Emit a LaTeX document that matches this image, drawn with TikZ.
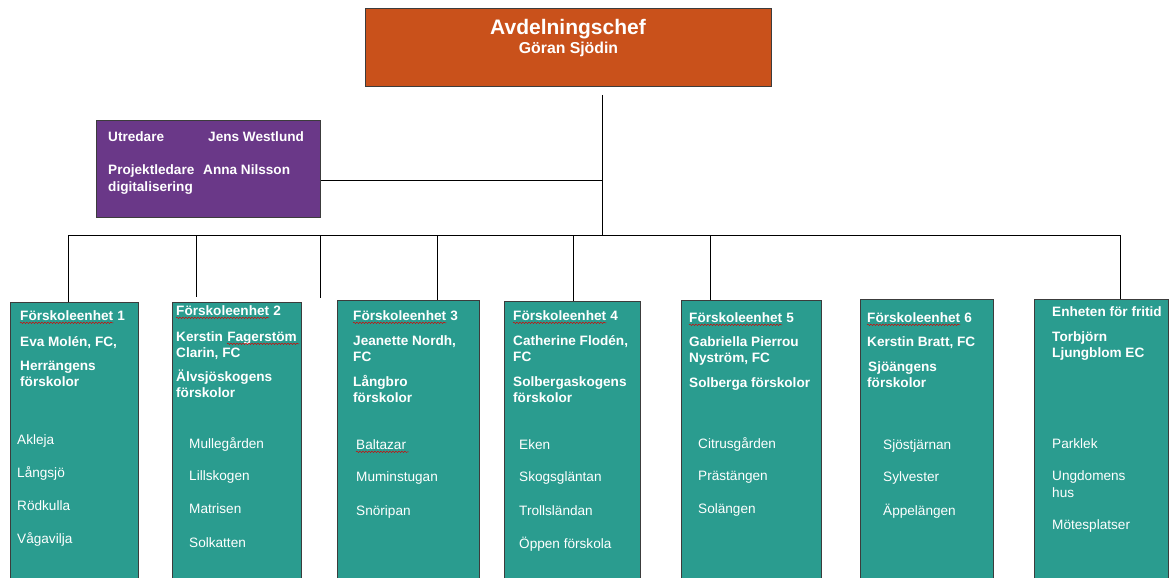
\documentclass[tikz,border=0pt]{standalone}
\usepackage{fontspec}
\setmainfont{Liberation Sans}
\usetikzlibrary{decorations.pathmorphing}
\definecolor{tealc}{RGB}{42,156,143}
\definecolor{orangec}{RGB}{201,81,27}
\definecolor{purplec}{RGB}{106,56,136}
\definecolor{boxgray}{RGB}{60,60,60}
\tikzset{
  unitbox/.style={draw=boxgray, fill=tealc, line width=0.9pt, anchor=north west, inner sep=0pt, outer sep=0pt},
  hd/.style={anchor=base west, inner sep=0pt, text=white, font=\fontsize{13.6}{16}\selectfont\bfseries},
  it/.style={anchor=base west, inner sep=0pt, text=white, font=\fontsize{13.6}{16}\selectfont},
  conn/.style={draw=black, line width=0.8pt},
  squig/.style={draw=red!85!black, line width=0.45pt, decorate, decoration={snake, segment length=3pt, amplitude=0.7pt}}
}
\newcommand\squigunder[1]{\draw[squig] ([yshift=-2.8pt]#1.base west) -- ([yshift=-2.8pt]#1.base east);}
\begin{document}
\begin{tikzpicture}[x=1pt,y=-1pt]
\useasboundingbox (0,0) rectangle (1176,578);
% top box
\node[draw=boxgray, fill=orangec, line width=0.9pt, anchor=north west, minimum width=406pt, minimum height=78pt, inner sep=0pt] (top) at (365,8) {};
\node[anchor=base, inner sep=0pt, text=white, font=\fontsize{21}{24}\selectfont\bfseries] (topt1) at (568,34.7) {Avdelningschef};
\node[anchor=base, inner sep=0pt, text=white, font=\fontsize{15.8}{18}\selectfont\bfseries] (topt2) at (568.5,54) {Göran Sjödin};
% purple box
\node[draw=boxgray, fill=purplec, line width=0.9pt, anchor=north west, minimum width=224pt, minimum height=97pt, inner sep=0pt] (pur) at (96,120) {};
\node[hd] (p1) at (108,141) {Utredare};
\node[hd] (p2) at (208,141) {Jens Westlund};
\node[hd] (p3) at (108,174) {Projektledare};
\node[hd] (p4) at (203,174) {Anna Nilsson};
\node[hd] (p5) at (108,191) {digitalisering};
% unit boxes
\node[unitbox, minimum width=128pt, minimum height=280pt] (b1) at (10,302) {};
\node[unitbox, minimum width=129pt, minimum height=280pt] (b2) at (172,302) {};
\node[unitbox, minimum width=142pt, minimum height=280pt] (b3) at (337,300) {};
\node[unitbox, minimum width=136pt, minimum height=280pt] (b4) at (504,301) {};
\node[unitbox, minimum width=140pt, minimum height=280pt] (b5) at (681,300) {};
\node[unitbox, minimum width=133pt, minimum height=280pt] (b6) at (860,299) {};
\node[unitbox, minimum width=134pt, minimum height=280pt] (b7) at (1034,299) {};
% connectors
\coordinate (topdrop) at (602,95);
\coordinate (jp) at (602,180);
\coordinate (bus) at (602,235);
\coordinate (busL) at (68,235);
\coordinate (busR) at (1120,235);
\coordinate (c2) at (196,235);
\coordinate (e2) at (196,297);
\coordinate (c3) at (320,235);
\coordinate (e3) at (320,298);
\coordinate (c4) at (437,235);
\coordinate (c5) at (573,235);
\coordinate (c6) at (710,235);
\draw[conn] (topdrop) -- (bus);
\draw[conn] (pur.east |- jp) -- (jp);
\draw[conn] (busL) -- (busR);
\draw[conn] (busL) -- (busL |- b1.north);
\draw[conn] (c2) -- (e2);
\draw[conn] (c3) -- (e3);
\draw[conn] (c4) -- (c4 |- b3.north);
\draw[conn] (c5) -- (c5 |- b4.north);
\draw[conn] (c6) -- (c6 |- b5.north);
\draw[conn] (busR) -- (busR |- b7.north);
% box 1
\node[hd] (t11w) at (20,320) {Förskoleenhet};
\node[hd] (t11) at (t11w.base east) {\ 1};
\node[hd] (t12) at (20,346) {Eva Molén, FC,};
\node[hd] (t13) at (20,370) {Herrängens};
\node[hd] (t14) at (20,386) {förskolor};
\node[it] (i11) at (17,444) {Akleja};
\node[it] (i12) at (17,477) {Långsjö};
\node[it] (i13) at (17,510) {Rödkulla};
\node[it] (i14) at (17,543) {Vågavilja};
% box 2
\node[hd] (t21w) at (176,315) {Förskoleenhet};
\node[hd] (t21) at (t21w.base east) {\ 2};
\node[hd] (t22a) at (176,341) {Kerstin};
\node[hd] (t22) at ([xshift=3.8pt]t22a.base east) {Fagerstöm\,};
\node[hd] (t23) at (176,357) {Clarin, FC};
\node[hd] (t24) at (176,381) {Älvsjöskogens};
\node[hd] (t25) at (176,397) {förskolor};
\node[it] (i21) at (189,448) {Mullegården};
\node[it] (i22) at (189,480) {Lillskogen};
\node[it] (i23) at (189,513) {Matrisen};
\node[it] (i24) at (189,547) {Solkatten};
% box 3
\node[hd] (t31w) at (353,320) {Förskoleenhet};
\node[hd] (t31) at (t31w.base east) {\ 3};
\node[hd] (t32) at (353,345) {Jeanette Nordh,};
\node[hd] (t33) at (353,361) {FC};
\node[hd] (t34) at (353,386) {Långbro};
\node[hd] (t35) at (353,402) {förskolor};
\node[it] (i31) at (356,449) {Baltazar\,};
\node[it] (i32) at (356,481) {Muminstugan};
\node[it] (i33) at (356,515) {Snöripan};
% box 4
\node[hd] (t41w) at (513,320) {Förskoleenhet};
\node[hd] (t41) at (t41w.base east) {\ 4};
\node[hd] (t42) at (513,345) {Catherine Flodén,};
\node[hd] (t43) at (513,361) {FC};
\node[hd] (t44) at (513,386) {Solbergaskogens};
\node[hd] (t45) at (513,402) {förskolor};
\node[it] (i41) at (519,449) {Eken};
\node[it] (i42) at (519,481) {Skogsgläntan};
\node[it] (i43) at (519,515) {Trollsländan};
\node[it] (i44) at (519,548) {Öppen förskola};
% box 5
\node[hd] (t51w) at (689,322) {Förskoleenhet};
\node[hd] (t51) at (t51w.base east) {\ 5};
\node[hd] (t52) at (689,346) {Gabriella Pierrou};
\node[hd] (t53) at (689,362) {Nyström, FC};
\node[hd] (t54) at (689,387) {Solberga förskolor};
\node[it] (i51) at (698,448) {Citrusgården};
\node[it] (i52) at (698,480) {Prästängen};
\node[it] (i53) at (698,513) {Solängen};
% box 6
\node[hd] (t61w) at (867,322) {Förskoleenhet};
\node[hd] (t61) at (t61w.base east) {\ 6};
\node[hd] (t62) at (867,346) {Kerstin Bratt, FC};
\node[hd] (t63) at (868,371) {Sjöängens};
\node[hd] (t64) at (867,387) {förskolor};
\node[it] (i61) at (883,449) {Sjöstjärnan};
\node[it] (i62) at (883,481) {Sylvester};
\node[it] (i63) at (883,515) {Äppelängen};
% box 7
\node[hd] (t71) at (1052,316) {Enheten för fritid};
\node[hd] (t72) at (1052,341) {Torbjörn};
\node[hd] (t73) at (1052,357) {Ljungblom EC};
\node[it] (i71) at (1052,448) {Parklek};
\node[it] (i72) at (1052,480) {Ungdomens};
\node[it] (i73) at (1052,497) {hus};
\node[it] (i74) at (1052,529) {Mötesplatser};
% spell-check squiggles
\squigunder{t11w}
\squigunder{t21w}
\squigunder{t22}
\squigunder{t31w}
\squigunder{t41w}
\squigunder{t51w}
\squigunder{t61w}
\squigunder{i31}
\end{tikzpicture}
\end{document}
